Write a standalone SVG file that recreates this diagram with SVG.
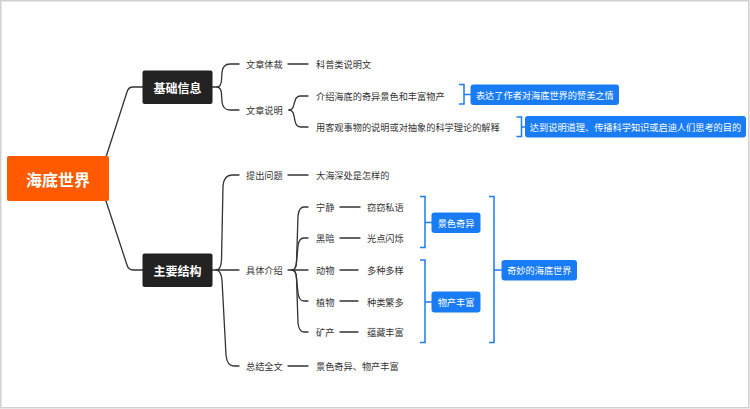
<svg xmlns="http://www.w3.org/2000/svg" width="750" height="409" viewBox="0 0 750 409">
<style>
text{font-family:"Noto Sans CJK SC","Noto Sans",sans-serif;dominant-baseline:central}
.t{font-size:9.2px;fill:#333}
.w{font-size:9.2px;fill:#fff;text-anchor:middle}
.m{font-size:12px;font-weight:bold;fill:#fff;text-anchor:middle}
.ln{fill:none;stroke:#333;stroke-width:1.3;stroke-linecap:round}
.br{fill:none;stroke:#1a7cf5;stroke-width:1.5}
.dark{fill:#222}
.blue{fill:#1a7cf5}
</style>
<rect x="0.75" y="0.75" width="748" height="407" fill="#fff" stroke="#d0d0d0" stroke-width="1.5"/>
<g id="connectors">
<path class="ln" d="M106,157 L127,92 Q128.5,87 133,87 L143,87"/>
<path class="ln" d="M106,201 L127,265 Q128.5,270 133,270 L143,270"/>
<path class="ln" d="M212,87 L217,87 Q221,87 221.5,80 L222,72 Q223,64 230,64 L239,64"/>
<path class="ln" d="M217,87 Q221,87 221.5,94 L222,102 Q223,110 230,110 L239,110"/>
<path class="ln" d="M288,64 H308"/>
<path class="ln" d="M289,110 Q293,110 294,104 L295,101 Q296,96 301,96 L308,96"/>
<path class="ln" d="M289,110 Q293,110 294,116 L295,121 Q296,127 301,127 L308,127"/>
<path class="ln" d="M212,270 L239,270"/>
<path class="ln" d="M216,270 Q221,270 221.5,260 L223,186 Q224,175 232,175 L239,175"/>
<path class="ln" d="M216,270 Q221,270 222,280 L226,355 Q227,366 234,366 L239,366"/>
<path class="ln" d="M288,175 H308"/>
<path class="ln" d="M288,366 H308"/>
<path class="ln" d="M288,270 L308,270"/>
<path class="ln" d="M292,270 Q296,270 296.5,262 L298,216 Q299,207 304,207 L308,207"/>
<path class="ln" d="M292,270 Q296,270 296.5,262 L298,246 Q299,238 304,238 L308,238"/>
<path class="ln" d="M292,270 Q296,270 296.5,278 L298,293 Q299,301 304,301 L308,301"/>
<path class="ln" d="M292,270 Q296,270 296.5,278 L298,323 Q299,332 304,332 L308,332"/>
<path class="ln" d="M340,207 H360"/>
<path class="ln" d="M340,238 H360"/>
<path class="ln" d="M340,270 H358"/>
<path class="ln" d="M340,301 H358"/>
<path class="ln" d="M340,332 H358"/>
<path class="br" d="M459,84.5 H464 V104 H459 M464,94.5 H471"/>
<path class="br" d="M516.5,117 H521.5 V136.5 H516.5 M521.5,127 H525"/>
<path class="br" d="M420,196.5 H425 V247.5 H420 M425,222.5 H432"/>
<path class="br" d="M420,260 H425 V342.5 H420 M425,302 H432"/>
<path class="br" d="M489,196.5 H494 V342.5 H489 M494,270 H502"/>
</g>
<g id="root">
<rect x="7" y="156" width="102" height="45" rx="2" fill="#ff5a00"/>
<text x="58" y="178.5" font-size="16px" font-weight="bold" fill="#fff" text-anchor="middle">海底世界</text>
</g>
<g id="n-jichu">
<rect class="dark" x="142.5" y="70.5" width="70" height="33.5" rx="2"/>
<text class="m" x="177.5" y="87.5">基础信息</text>
</g>
<g id="n-zhuyao">
<rect class="dark" x="142.5" y="253.5" width="70" height="33.5" rx="2"/>
<text class="m" x="177.5" y="270.5">主要结构</text>
</g>
<g id="n-ticai"><text class="t" x="246" y="63.5">文章体裁</text></g>
<g id="n-kepu"><text class="t" x="316" y="63.5">科普类说明文</text></g>
<g id="n-shuoming"><text class="t" x="246" y="110">文章说明</text></g>
<g id="n-jieshao"><text class="t" x="316" y="96">介绍海底的奇异景色和丰富物产</text></g>
<g id="n-yong"><text class="t" x="316" y="126.5">用客观事物的说明或对抽象的科学理论的解释</text></g>
<g id="s-zanmei">
<rect class="blue" x="470.5" y="84.5" width="148.5" height="20.5" rx="3"/>
<text class="w" x="544.8" y="95">表达了作者对海底世界的赞美之情</text>
</g>
<g id="s-dadao">
<rect class="blue" x="525" y="116" width="221" height="21.5" rx="3"/>
<text class="w" x="635.5" y="127">达到说明道理、传播科学知识或启迪人们思考的目的</text>
</g>
<g id="n-tichu"><text class="t" x="246" y="175">提出问题</text></g>
<g id="n-dahai"><text class="t" x="316" y="175">大海深处是怎样的</text></g>
<g id="n-juti"><text class="t" x="246" y="270">具体介绍</text></g>
<g id="n-zongjie"><text class="t" x="246" y="366">总结全文</text></g>
<g id="n-jingse2"><text class="t" x="316" y="366">景色奇异、物产丰富</text></g>
<g id="n-ningjing"><text class="t" x="316" y="207">宁静</text></g>
<g id="n-heian"><text class="t" x="316" y="238">黑暗</text></g>
<g id="n-dongwu"><text class="t" x="316" y="270">动物</text></g>
<g id="n-zhiwu"><text class="t" x="316" y="301.5">植物</text></g>
<g id="n-kuangchan"><text class="t" x="316" y="332">矿产</text></g>
<g id="n-qieqie"><text class="t" x="367" y="207">窃窃私语</text></g>
<g id="n-guangdian"><text class="t" x="367" y="238">光点闪烁</text></g>
<g id="n-duozhong"><text class="t" x="367" y="270">多种多样</text></g>
<g id="n-zhonglei"><text class="t" x="367" y="301.5">种类繁多</text></g>
<g id="n-yuncang"><text class="t" x="367" y="332">蕴藏丰富</text></g>
<g id="s-jingse">
<rect class="blue" x="431.5" y="212.5" width="49" height="20.5" rx="3"/>
<text class="w" x="456" y="222.5">景色奇异</text>
</g>
<g id="s-wuchan">
<rect class="blue" x="431.5" y="291.5" width="49" height="21" rx="3"/>
<text class="w" x="456" y="302">物产丰富</text>
</g>
<g id="s-qimiao">
<rect class="blue" x="501.5" y="260" width="75.5" height="20.5" rx="3"/>
<text class="w" x="539.3" y="270.3">奇妙的海底世界</text>
</g>
</svg>
